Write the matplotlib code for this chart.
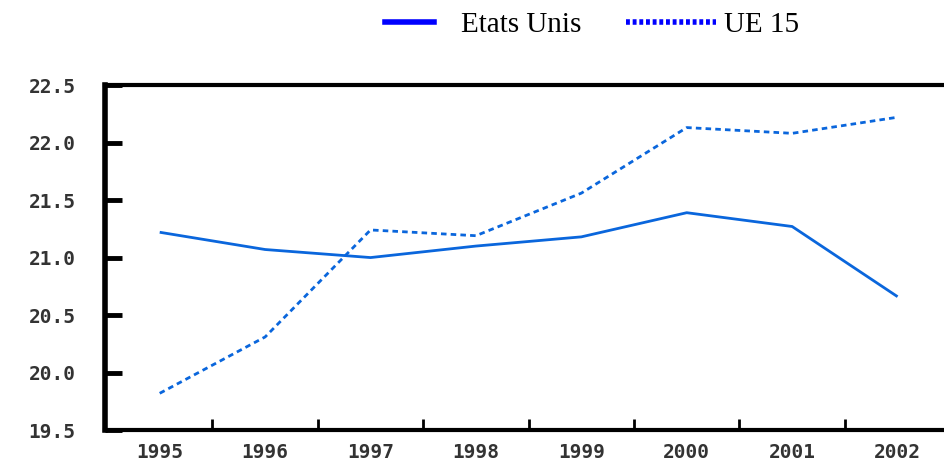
import matplotlib
matplotlib.use('Agg')
from matplotlib import pyplot as plt

years = ['1995', '1996', '1997', '1998', '1999', '2000', '2001', '2002']
etats_unis = [21.22, 21.07, 21.00, 21.10, 21.18, 21.39, 21.27, 20.66]
ue15 = [19.82, 20.31, 21.24, 21.19, 21.56, 22.13, 22.08, 22.22]
yticks = [19.5, 20.0, 20.5, 21.0, 21.5, 22.0, 22.5]

fig = plt.figure(figsize=(9.45, 4.62), dpi=100)
ax = fig.add_axes([0.111, 0.069, 0.889, 0.747])

x = range(len(years))
ax.plot(x, etats_unis, color='#0a66dc', lw=2.0, solid_capstyle='butt')
ax.plot(x, ue15, color='#0a66dc', lw=2.0, linestyle=(0, (2.0, 1.5)))

ax.set_xlim(-0.52, 7.45)
ax.set_ylim(19.5, 22.5)
ax.set_xticks(list(x))
ax.set_xticklabels(years)
ax.set_xticks([i + 0.5 for i in range(7)], minor=True)
ax.set_yticks(yticks)
ax.set_yticklabels(['%.1f' % v for v in yticks])

ax.tick_params(axis='x', which='major', length=0, pad=9, labelsize=14, labelcolor='#333333')
ax.tick_params(axis='x', which='minor', direction='in', length=8, width=2)
ax.tick_params(axis='y', direction='in', length=12, width=3.5, pad=21, labelsize=14, labelcolor='#333333')
for lab in ax.get_xticklabels() + ax.get_yticklabels():
    lab.set_fontweight('bold')
    lab.set_family('DejaVu Sans Mono')

for s in ['left', 'top', 'bottom']:
    ax.spines[s].set_linewidth(3)
    ax.spines[s].set_color('black')
ax.spines['left'].set_linewidth(4)
ax.spines['right'].set_visible(False)

h1, = ax.plot([], [], color='#0000ff', lw=4)
h2, = ax.plot([], [], color='#0000ff', lw=4, linestyle=(0, (0.7, 0.5)))
legend_font = {'family': 'Liberation Serif', 'size': 21}
fig.legend([h1], ['Etats Unis'], loc='center left', bbox_to_anchor=(385 / 945, 0.946),
           frameon=False, handlelength=1.68, handletextpad=0.92, borderpad=0, borderaxespad=0,
           prop=legend_font)
fig.legend([h2], ['UE 15'], loc='center left', bbox_to_anchor=(626 / 945, 0.946),
           frameon=False, handlelength=3.1, handletextpad=0.25, borderpad=0, borderaxespad=0,
           prop=legend_font)

fig.savefig('out.png', dpi=100)
